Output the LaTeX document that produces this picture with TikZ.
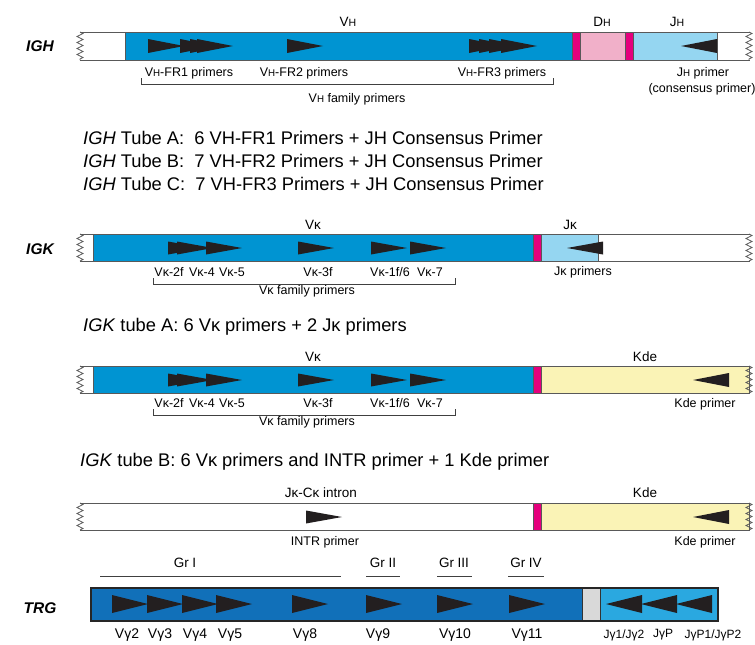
\documentclass[tikz,border=0pt]{standalone}
\usepackage{fontspec}
\setmainfont{Liberation Sans}
\usepackage{graphicx}
\usetikzlibrary{decorations.pathmorphing}
\definecolor{vblue}{HTML}{0094D2}
\definecolor{jblue}{HTML}{95D6F1}
\definecolor{dpink}{HTML}{F1B0C9}
\definecolor{mag}{HTML}{E5007D}
\definecolor{kdeyel}{HTML}{FAF3B6}
\definecolor{tblue}{HTML}{1170B9}
\definecolor{tlight}{HTML}{2AA8E0}
\definecolor{tgray}{HTML}{D9D9D9}
\definecolor{ink}{HTML}{231F20}
\newcommand{\sH}{\scalebox{0.78}{H}}
\newcommand{\fwdprimer}[3]{\fill[primer] (#1,#2-#3) -- (#1+36,#2) -- (#1,#2+#3) -- cycle;}
\newcommand{\revprimer}[3]{\fill[primer] (#1,#2-#3) -- (#1-36,#2) -- (#1,#2+#3) -- cycle;}

\begin{document}
\begin{tikzpicture}[
  x=1pt, y=-1pt,
  seg/.style={draw=black!65, line width=0.8pt},
  wavy/.style={draw=black!65, line width=0.7pt, decorate, decoration={zigzag, amplitude=3pt, segment length=6pt}},
  primer/.style={fill=ink},
  bracket/.style={draw=black!75, line width=0.7pt},
  lbl/.style={font=\fontsize{12.5}{13}\selectfont, inner sep=1pt},
  region/.style={font=\fontsize{13.5}{14}\selectfont, inner sep=1pt},
  locus/.style={font=\fontsize{15.5}{16}\selectfont\bfseries\itshape, inner sep=1pt},
  tube/.style={font=\fontsize{18.3}{20}\selectfont, anchor=west, inner sep=0pt},
  vglbl/.style={font=\fontsize{14}{15}\selectfont, inner sep=1pt},
  jglbl/.style={font=\fontsize{12}{13}\selectfont, inner sep=1pt}
]
\useasboundingbox (0,0) rectangle (755,645);

% ---- IGH ----
\node[locus] (igh) at (40,46) {IGH};
\draw[seg, fill=vblue] (125,32) rectangle (572,60);
\draw[seg, fill=mag] (572,32) rectangle (580,60);
\draw[seg, fill=dpink] (580,32) rectangle (625,60);
\draw[seg, fill=mag] (625,32) rectangle (633,60);
\draw[seg, fill=jblue] (633,32) rectangle (717,60);
\draw[seg] (80,32) -- (750,32);
\draw[seg] (80,60) -- (750,60);
\draw[wavy] (80,32) -- (80,60);
\draw[wavy] (749,32) -- (749,60);
\foreach \x in {148,180,190,197} \fwdprimer{\x}{46}{7};
\fwdprimer{287}{46}{7}
\foreach \x in {469,479,489,501} \fwdprimer{\x}{46}{7};
\revprimer{717}{46}{7}
\node[region] (vh) at (348,22) {V\sH};
\node[region] (dh) at (602,22) {D\sH};
\node[region] (jh) at (677,22) {J\sH};
\node[lbl] (fr1) at (189,73) {V\sH-FR1 primers};
\node[lbl] (fr2) at (304,73) {V\sH-FR2 primers};
\node[lbl] (fr3) at (502,73) {V\sH-FR3 primers};
\node[lbl] (jhp) at (703,73) {J\sH{} primer};
\node[lbl] (jhc) at (702,89) {(consensus primer)};
\draw[bracket] (141,78) |- (553,84) -- (553,78);
\node[lbl] (vhfam) at (357,99) {V\sH{} family primers};

\node[tube] (ta) at (83,138) {\textit{IGH} Tube A:\ \ 6 VH-FR1 Primers + JH Consensus Primer};
\node[tube] (tb) at (83,161) {\textit{IGH} Tube B:\ \ 7 VH-FR2 Primers + JH Consensus Primer};
\node[tube] (tc) at (83,184) {\textit{IGH} Tube C:\ \ 7 VH-FR3 Primers + JH Consensus Primer};

% ---- IGK tube A ----
\node[locus] (igk) at (40,249) {IGK};
\draw[seg, fill=vblue] (93,234) rectangle (533,261);
\draw[seg, fill=mag] (533,234) rectangle (541,261);
\draw[seg, fill=jblue] (541,234) rectangle (598,261);
\draw[seg] (80,234) -- (750,234);
\draw[seg] (80,261) -- (750,261);
\draw[wavy] (80,234) -- (80,261);
\draw[wavy] (749,234) -- (749,261);
\foreach \x in {168,177,206,298,371,410} \fwdprimer{\x}{248}{6.5};
\revprimer{603}{248}{6.5}
\node[region] (vk) at (313,225) {Vκ};
\node[region] (jk) at (570,225) {Jκ};
\foreach \x/\t [count=\i] in {169/2f,202/4,232/5,318/3f,390/1f\slash 6,430/7}
  \node[lbl] (vka\i) at (\x,272) {Vκ-\t};
\node[lbl] (jkp) at (583,272) {Jκ primers};
\draw[bracket] (153,278) |- (455,284) -- (455,278);
\node[lbl] (vkfama) at (307,291) {Vκ family primers};

\node[tube] (tka) at (83,327) {\textit{IGK} tube A: 6 Vκ primers + 2 Jκ primers};

% ---- IGK tube B, Vk-Kde ----
\draw[seg, fill=vblue] (93,366) rectangle (533,393);
\draw[seg, fill=mag] (533,366) rectangle (541,393);
\draw[seg, fill=kdeyel] (541,366) rectangle (749,393);
\draw[seg] (80,366) -- (750,366);
\draw[seg] (80,393) -- (750,393);
\draw[wavy] (80,366) -- (80,393);
\draw[wavy] (749,366) -- (749,393);
\foreach \x in {168,177,206,298,371,410} \fwdprimer{\x}{380}{6.5};
\revprimer{729}{380}{7}
\node[region] (vkb) at (313,357) {Vκ};
\node[region] (kdeb) at (645,357) {Kde};
\foreach \x/\t [count=\i] in {169/2f,202/4,232/5,318/3f,390/1f\slash 6,430/7}
  \node[lbl] (vkb\i) at (\x,403) {Vκ-\t};
\node[lbl] (kdepb) at (705,404) {Kde primer};
\draw[bracket] (153,409) |- (455,415) -- (455,409);
\node[lbl] (vkfamb) at (307,422) {Vκ family primers};

\node[tube] (tkb) at (80,462) {\textit{IGK} tube B: 6 Vκ primers and INTR primer + 1 Kde primer};

% ---- intron-Kde ----
\draw[seg, fill=mag] (533,503) rectangle (541,530);
\draw[seg, fill=kdeyel] (541,503) rectangle (749,530);
\draw[seg] (80,503) -- (750,503);
\draw[seg] (80,530) -- (750,530);
\draw[wavy] (80,503) -- (80,530);
\draw[wavy] (749,503) -- (749,530);
\fwdprimer{306}{517}{6.5}
\revprimer{729}{517}{7}
\node[region] (intron) at (321,493) {Jκ-Cκ intron};
\node[region] (kdec) at (645,493) {Kde};
\node[lbl] (intr) at (325,542) {INTR primer};
\node[lbl] (kdepc) at (705,542) {Kde primer};

% ---- TRG ----
\node[locus] (trg) at (40,608) {TRG};
\foreach \a/\b/\c/\t [count=\i] in {100/341/185/Gr I,366/400/383/Gr II,437/472/454/Gr III,508/544/526/Gr IV}{
  \node[region] (gr\i) at (\c,563) {\t};
  \draw[bracket] (\a,576) -- (\b,576);
}
\fill[tblue] (91,588) rectangle (582,621);
\fill[tgray] (582,588) rectangle (600,621);
\fill[tlight] (600,588) rectangle (718,621);
\draw[draw=black!80, line width=1pt] (582,588) -- (582,621) (600,588) -- (600,621);
\draw[draw=black!85, line width=2pt] (91,588) rectangle (718,621);
\foreach \x in {112,147,182,216,292,366,437,509} \fwdprimer{\x}{604}{9};
\foreach \x in {642,677,712} \revprimer{\x}{604}{9};
\foreach \x/\t [count=\i] in {127/2,160/3,195/4,230/5,305/8,378/9,455/10,527/11}
  \node[vglbl] (vg\i) at (\x,635) {Vγ\t};
\node[jglbl] (jg1) at (624,635) {Jγ1/Jγ2};
\node[jglbl] (jg2) at (663,635) {JγP};
\node[jglbl] (jg3) at (713,635) {JγP1/JγP2};
\end{tikzpicture}
\end{document}
